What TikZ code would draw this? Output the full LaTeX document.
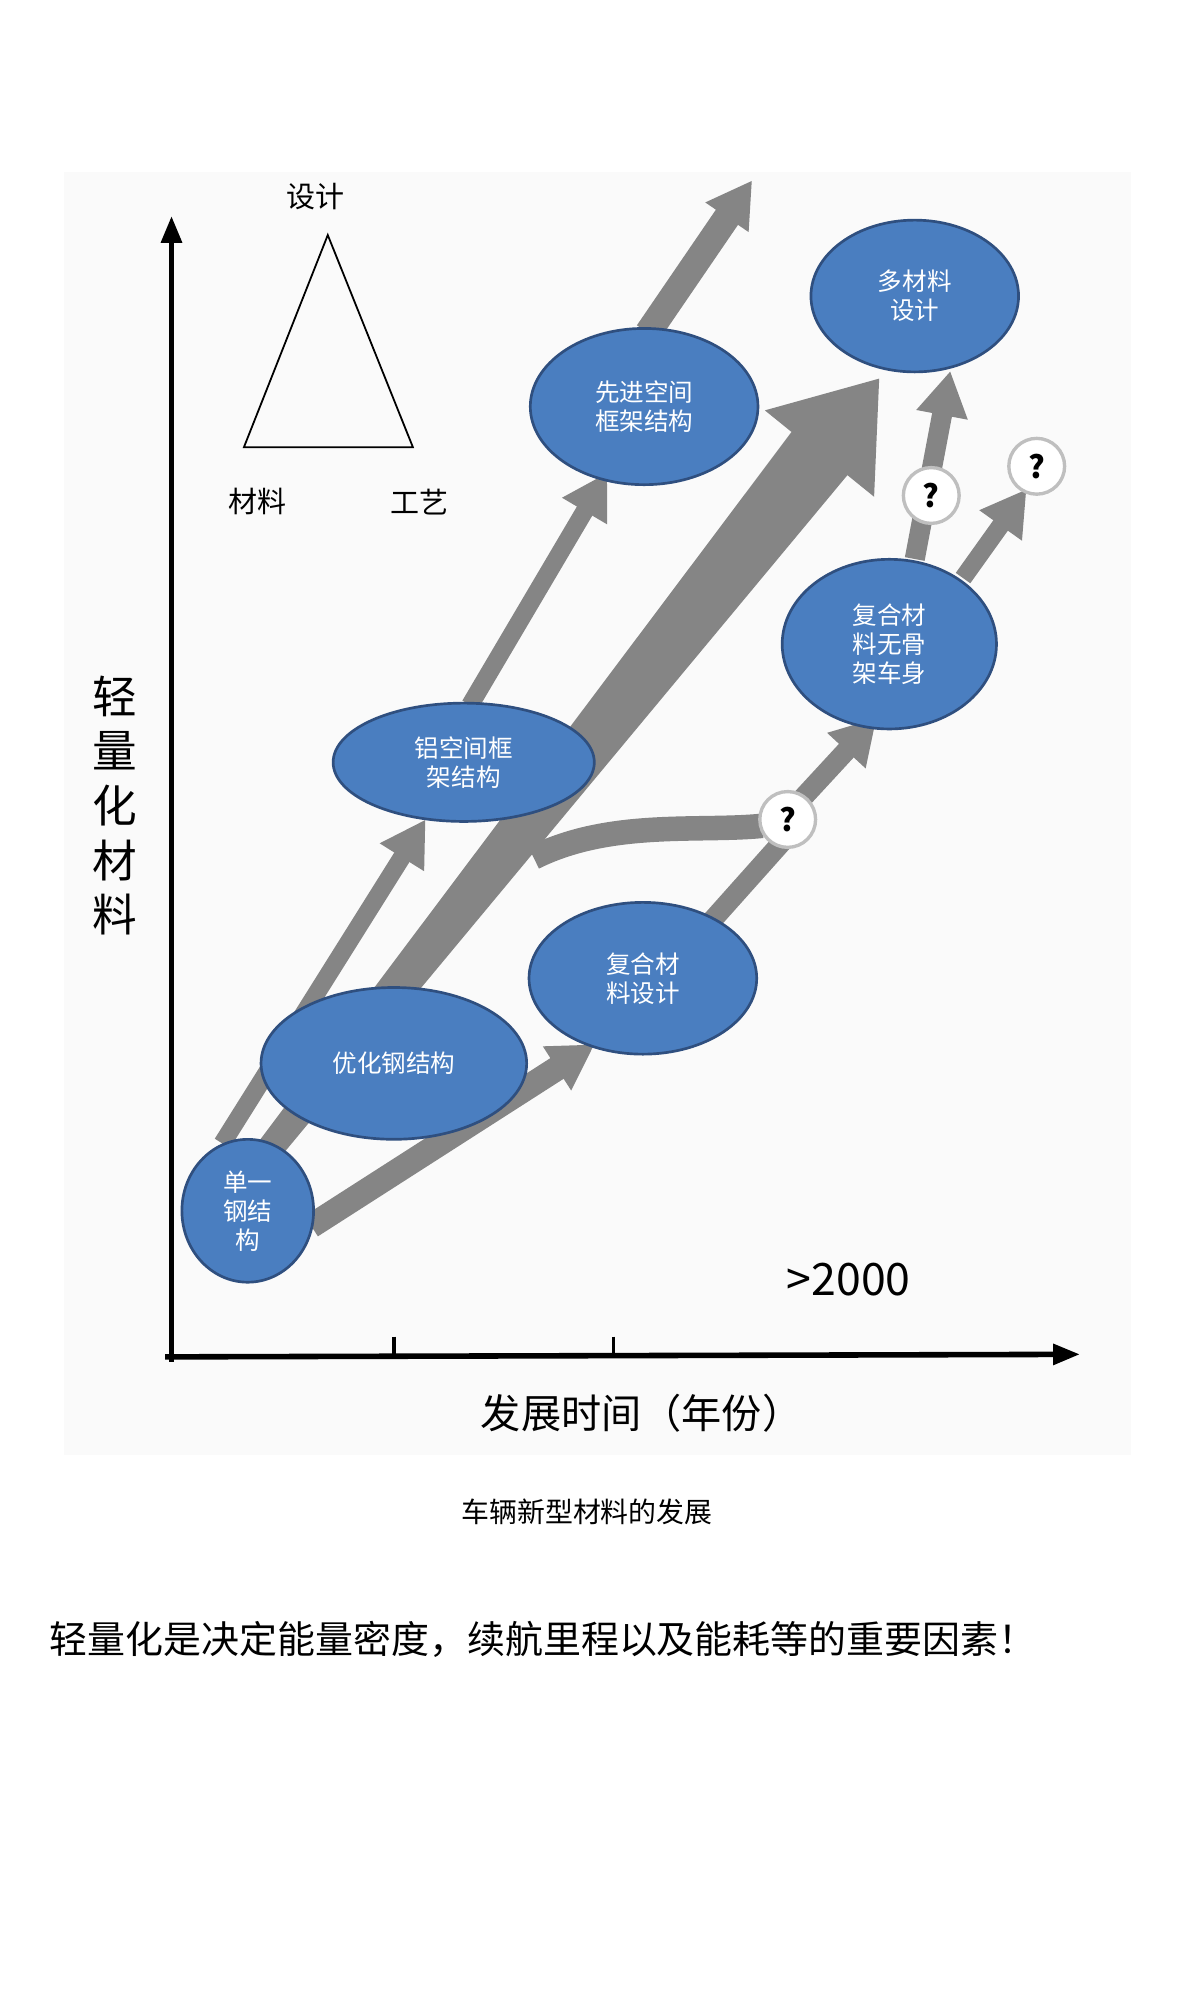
\documentclass[tikz,border=0pt]{standalone}
\usepackage{fontspec}
\setmainfont{Noto Sans CJK SC}
\usetikzlibrary{arrows.meta,shapes.geometric}
\definecolor{eb}{HTML}{4A7EC0}
\definecolor{ed}{HTML}{2F4F7F}
\definecolor{ag}{HTML}{858585}
\tikzset{
 ell/.style={ellipse,draw=ed,line width=1.2pt,fill=eb,text=white,align=center,font=\fontsize{11}{13}\selectfont,inner sep=0pt},
 qm/.style={circle,draw=black!25,fill=white,line width=1.5pt,minimum size=25pt,inner sep=0pt,font=\fontsize{14}{14}\bfseries\selectfont},
 ga/.style={draw=ag,line width=#1,-{Triangle[length=20pt,width=22pt]}},
 gl/.style={draw=ag,line width=#1},
}
\begin{document}
\begin{tikzpicture}[x=0.02cm,y=-0.02cm]
\useasboundingbox (0,0) rectangle (945,1575);
\fill[black!2] (50,135) rectangle (890,1145);
% axes
\draw[line width=2.5pt,-{Triangle[length=12pt,width=9pt]}] (135,1072) -- (135,170);
\draw[line width=2.5pt,-{Triangle[length=12pt,width=9pt]}] (130,1068) -- (850,1066);
\draw[line width=1.5pt] (310,1052) -- (310,1068) (483,1052) -- (483,1068);
% triangle
\draw[line width=0.8pt] (258,185) -- (192,352) -- (325,352) -- cycle;
\node[font=\fontsize{13}{13}\selectfont] (t1) at (248,155) {设计};
\node[font=\fontsize{13}{13}\selectfont] (t2) at (203,395) {材料};
\node[font=\fontsize{13}{13}\selectfont] (t3) at (330,395) {工艺};
% labels
\node[font=\fontsize{20}{24.5}\selectfont,align=center] (yl) at (90,634) {轻\\量\\化\\材\\料};
\node[font=\fontsize{18}{18}\selectfont] (xl) at (505,1112) {发展时间（年份）};
\node[font=\fontsize{20}{20}\selectfont] (yr) at (668,1007) {>2000};
\node[font=\fontsize{12.5}{12.5}\selectfont] (cap) at (462,1190) {车辆新型材料的发展};
\node[font=\fontsize{17}{17}\selectfont,anchor=west] (txt) at (33,1290) {轻量化是决定能量密度，续航里程以及能耗等的重要因素！};
% main arrow
\fill[ag] (192,914) -- (623,340) -- (602,323) -- (692,298) -- (688,391) -- (667,374) -- (208,926) -- cycle;
% other arrows
\draw[ga=8pt] (175,900) -- (335,645);
\draw[ga=8pt] (370,555) -- (478,372);
\draw[ga=12pt] (510,262) -- (592,142);
\draw[ga=11pt] (245,965) -- (468,822);
\draw[gl=9pt] (560,725) -- (618,660);
\draw[ga=9pt] (630,630) -- (690,565);
\draw[gl=11pt] (420,675) .. controls (480,645) and (550,655) .. (600,650);
\draw[ga=9pt] (720,440) -- (748,292);
\draw[ga=8pt] (758,455) -- (808,385);
% question marks
\node[qm] (q1) at (620,645) {?};
\node[qm] (q2) at (733,390) {?};
\node[qm] (q3) at (816,367) {?};
% ellipses
\node[ell,minimum width=59pt,minimum height=64pt] (e1) at (195,953) {单一\\钢结\\构};
\node[ell,minimum width=119pt,minimum height=68pt] (e2) at (310,837) {优化钢结构};
\node[ell,minimum width=102pt,minimum height=68pt] (e3) at (506,770) {复合材\\料设计};
\node[ell,minimum width=117pt,minimum height=53pt] (e4) at (365,600) {铝空间框\\架结构};
\node[ell,minimum width=102pt,minimum height=70pt] (e5) at (507,320) {先进空间\\框架结构};
\node[ell,minimum width=93pt,minimum height=68pt] (e6) at (720,233) {多材料\\设计};
\node[ell,minimum width=96pt,minimum height=76pt] (e7) at (700,507) {复合材\\料无骨\\架车身};
\end{tikzpicture}
\end{document}
